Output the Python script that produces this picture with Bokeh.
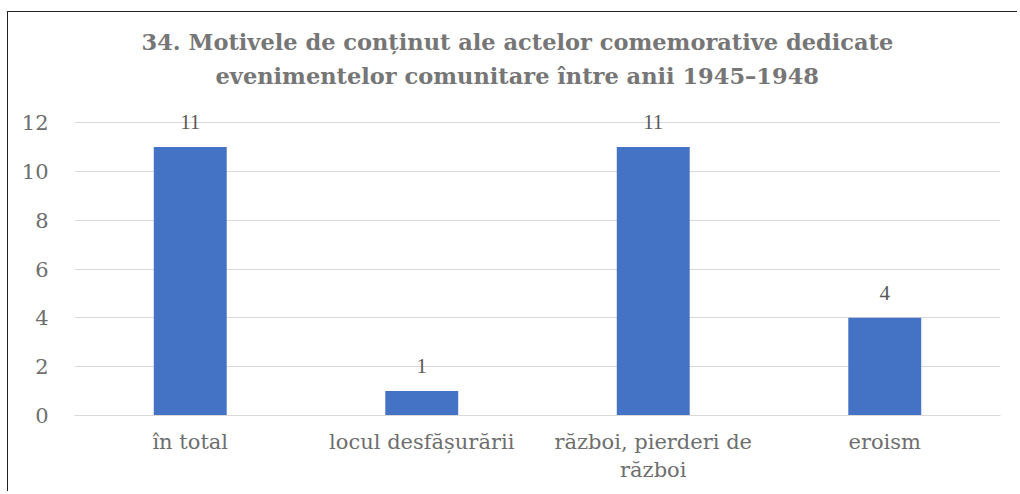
from bokeh.plotting import figure
from bokeh.models import ColumnDataSource, Title, FixedTicker, LabelSet
from bokeh.embed import file_html
from bokeh.resources import INLINE

categories = ["în total", "locul desfășurării", "război, pierderi de\nrăzboi", "eroism"]
values = [11, 1, 11, 4]
y_ticks = [0, 2, 4, 6, 8, 10, 12]
title_lines = ["34. Motivele de conținut ale actelor comemorative dedicate",
               "evenimentelor comunitare între anii 1945–1948"]

FONT = "DejaVu Serif"
GRAY = "#6e6e6e"

src = ColumnDataSource(dict(cat=categories, val=values, txt=[str(v) for v in values]))

p = figure(x_range=categories, y_range=(0, 13.15), width=1010, height=480,
           output_backend="svg", toolbar_location=None,
           min_border_left=66, min_border_right=18, min_border_top=82, min_border_bottom=77)
p.title = None
p.outline_line_color = None
p.styles = {"margin-left": "7px", "margin-top": "11px",
            "border-left": "1px solid #222", "border-top": "1px solid #222"}

p.vbar(x="cat", top="val", width=0.315, source=src, color="#4472C4", line_color=None)

labels = LabelSet(x="cat", y="val", text="txt", source=src, text_align="center",
                  text_baseline="bottom", y_offset=18, text_font=FONT,
                  text_font_size="21px", text_color="#595959")
p.add_layout(labels)

# second line first (closest to the plot), then first line above it
title_offsets = [67, 141]
for line, off, so in reversed(list(zip(title_lines, title_offsets, [0, 12]))):
    t = Title(text=line, align="left", offset=off, text_font=FONT,
              text_font_size="22.5px", text_font_style="bold", text_color="#767676",
              text_line_height=0.6, standoff=so)
    p.add_layout(t, "above")

p.yaxis.ticker = FixedTicker(ticks=y_ticks)
p.ygrid.ticker = FixedTicker(ticks=y_ticks)
p.ygrid.grid_line_color = "#d9d9d9"
p.ygrid.grid_line_width = 1
p.xgrid.grid_line_color = None

p.yaxis.axis_line_color = None
p.yaxis.major_tick_line_color = None
p.yaxis.minor_tick_line_color = None
p.yaxis.major_label_text_font = FONT
p.yaxis.major_label_text_font_size = "21px"
p.yaxis.major_label_text_color = GRAY
p.yaxis.major_label_standoff = 20

p.xaxis.axis_line_color = "#d9d9d9"
p.xaxis.major_tick_line_color = None
p.xaxis.minor_tick_line_color = None
p.xaxis.major_label_text_font = FONT
p.xaxis.major_label_text_font_size = "21px"
p.xaxis.major_label_text_color = GRAY
p.xaxis.major_label_standoff = 8

open("out.html", "w").write(file_html(p, INLINE))
